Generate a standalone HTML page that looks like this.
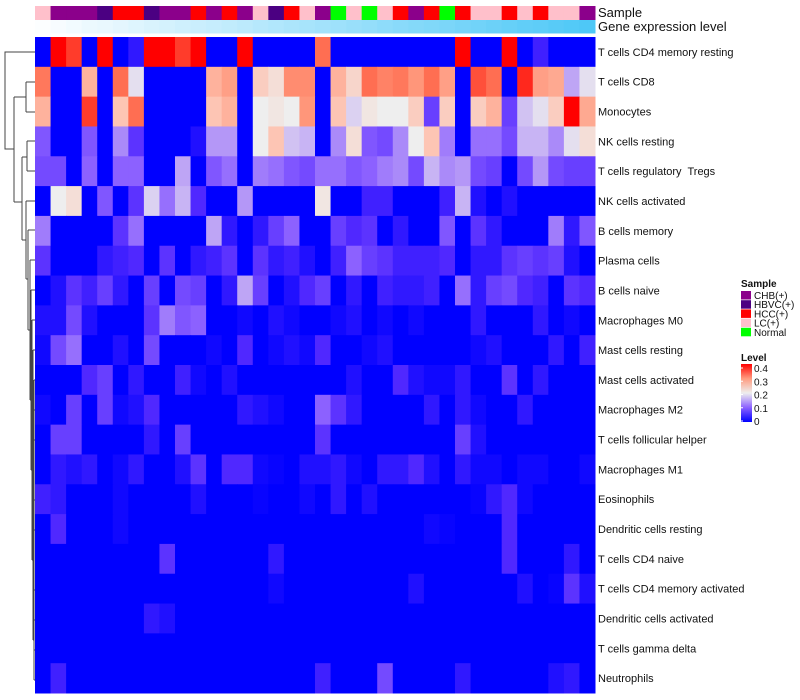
<!DOCTYPE html>
<html><head><meta charset="utf-8"><style>
html,body{margin:0;padding:0;background:#fff;width:800px;height:700px;overflow:hidden}
svg{display:block}
text{font-family:"Liberation Sans",sans-serif;fill:#111}
#rowlabels text{white-space:pre}
</style></head><body>
<svg id="chart" width="800" height="700">
<g id="dendro" stroke="#444" stroke-width="1" fill="none">
<path d="M35,52H5V149H14"/>
<path d="M14,97V202"/>
<path d="M14,97H26M26,82V112M26,82H35M26,112H35"/>
<path d="M14,202H22M22,157V240M22,157H27M27,141V171M27,141H35M27,171H35"/>
<path d="M22,240H26M26,201V279M26,201H35M26,279H28"/>
<path d="M28,230V330M28,230H35M28,330H30M30,260V400M30,260H35M30,400H31"/>
<path d="M31,290V470M31,290H35M31,470H32M32,320V560M32,320H35M32,560H33M33,350V640M33,350H35M33,640H34M34,380V680"/>
<path d="M34,380H35M34,410H35M34,440H35M34,500H35M34,530H35M34,590H35M34,620H35M34,650H35M34,680H35"/>
</g>
<g id="cells"></g>
<g id="annot"></g>
<text x="598" y="17" font-size="13">Sample</text>
<text x="598" y="31" font-size="13">Gene expression level</text>
<g id="rowlabels"></g>
<g id="legend">
<text x="741" y="287" font-size="10" font-weight="bold">Sample</text>
<g id="legItems"></g>
<text x="741" y="361" font-size="10" font-weight="bold">Level</text>
<defs><linearGradient id="lg" x1="0" y1="1" x2="0" y2="0">
<stop offset="0" stop-color="#0000ff"/><stop offset="0.25" stop-color="#8c61ff"/><stop offset="0.5" stop-color="#eeeeee"/><stop offset="0.75" stop-color="#ff9b7f"/><stop offset="1" stop-color="#ff0000"/></linearGradient></defs>
<rect x="741" y="364" width="11" height="58" fill="url(#lg)"/>
<g id="levTicks"></g>
</g>
</svg>
<script>
const rowNames=["T cells CD4 memory resting","T cells CD8","Monocytes","NK cells resting","T cells regulatory  Tregs","NK cells activated","B cells memory","Plasma cells","B cells naive","Macrophages M0","Mast cells resting","Mast cells activated","Macrophages M2","T cells follicular helper","Macrophages M1","Eosinophils","Dendritic cells resting","T cells CD4 naive","T cells CD4 memory activated","Dendritic cells activated","T cells gamma delta","Neutrophils"];
const samples=["LC","CHB","CHB","CHB","HBVC","HCC","HCC","HBVC","CHB","CHB","HCC","CHB","HCC","CHB","LC","HBVC","HCC","LC","CHB","Normal","LC","Normal","LC","HCC","CHB","HCC","Normal","HCC","LC","LC","HCC","LC","HCC","LC","LC","CHB"];
const sampleTypes=["CHB","HBVC","HCC","LC","Normal"];
const sampleLabels=["CHB(+)","HBVC(+)","HCC(+)","LC(+)","Normal"];
const geneLevel=[0,0.03,0.06,0.09,0.11,0.14,0.17,0.2,0.23,0.26,0.29,0.31,0.34,0.37,0.4,0.43,0.46,0.49,0.51,0.54,0.57,0.6,0.63,0.66,0.69,0.71,0.74,0.77,0.8,0.83,0.86,0.89,0.91,0.94,0.97,1];
const levelTicks=[0,0.1,0.2,0.3,0.4];
const values=[
[0,.4,.37,0,.4,0,.03,.4,.4,.37,.4,0,0,.4,0,0,0,0,.34,0,0,0,0,0,0,0,0,.4,0,0,.4,0,.04,0,0,0],
[.33,0,0,.27,0,.34,.19,0,0,0,0,.27,.29,0,.24,.22,.31,.31,0,.27,.23,.34,.32,.33,.30,.34,.29,0,.36,.34,0,.38,.29,.28,.15,.19],
[.27,0,0,.37,0,.25,.34,0,0,0,0,.25,.27,0,.2,.21,.2,.3,0,.25,.18,.21,.2,.2,.24,.07,.24,0,.24,.27,.07,.17,.19,.24,.4,.28],
[.09,0,0,.09,0,.13,.06,0,0,0,.02,.14,.14,0,.2,.25,.17,.16,0,.13,.22,.09,.08,.13,.2,.25,.12,0,.11,.11,.08,.16,.16,.13,.19,.22],
[.08,.08,0,.1,0,.1,.1,0,0,.15,0,.09,.11,0,.12,.11,.09,.08,.11,.11,.09,.1,.12,.13,.08,.16,.13,.14,.08,.07,0,.08,.14,.08,.07,.07],
[0,.2,.22,0,.09,0,.06,.18,.11,.16,.05,0,0,.14,0,0,0,0,.21,0,0,.04,.04,0,0,0,.04,.16,.02,0,.02,0,0,0,0,0],
[.12,0,0,0,0,.06,.11,0,0,0,0,.15,.03,0,.03,.07,.1,0,0,.07,.05,.06,0,.03,0,0,.09,0,.06,.03,0,0,0,.12,.03,.09],
[.06,0,0,0,.03,.04,.05,0,.06,0,.03,.04,.06,0,.06,.03,.04,.02,0,.04,.1,.07,.06,.04,.04,.04,.05,0,.03,.03,.06,.07,.06,.07,.02,0],
[0,.02,.06,.04,.07,.03,0,.07,0,.08,.07,0,.03,.15,.07,0,.02,.05,.07,0,.03,0,.04,.03,.03,.04,0,.11,.03,.07,.08,.05,.04,0,.06,.05],
[.02,.02,.08,.02,0,0,0,.06,.12,.09,.1,0,0,.01,0,.02,.01,0,0,.01,.02,0,.01,0,.01,0,0,0,.03,0,0,0,.03,0,.01,0],
[.01,.08,.11,0,0,.02,0,.08,0,0,0,.01,0,.05,0,.01,.02,.01,.05,0,0,.01,.02,0,0,0,0,0,.01,.02,0,0,0,.03,0,.04],
[0,0,0,.05,.07,0,.03,0,0,.04,.01,0,.02,0,0,0,0,0,0,0,.02,0,0,.05,.02,.01,.01,.03,0,0,.06,0,.03,0,0,0],
[.01,0,.07,0,.07,.01,.02,.05,0,0,0,0,0,.03,.02,.01,0,0,.1,.06,.03,0,0,0,0,.03,0,.03,.01,0,0,.03,0,0,0,0],
[0,.07,.07,0,0,0,0,.03,0,.07,0,0,0,0,0,0,0,0,.06,0,0,0,0,0,0,0,0,.07,.02,0,0,0,0,0,0,0],
[0,.03,.02,.03,0,.01,.03,0,0,.02,.06,0,.05,.05,.01,.005,0,.02,.02,.03,.01,0,.03,.03,.05,.02,0,.03,.01,.01,0,.01,.01,0,0,.01],
[.04,.03,0,0,0,.01,0,0,0,0,.02,0,0,0,.005,0,0,.01,0,.03,0,.02,0,0,0,0,0,0,.005,.03,.05,.01,0,0,0,0],
[0,.05,0,0,0,.01,0,0,0,0,0,0,0,0,0,0,0,0,0,0,0,0,0,0,0,.01,.005,0,0,0,.05,0,0,0,0,0],
[0,0,0,0,0,0,0,0,.06,0,0,0,0,0,0,.03,0,0,0,0,0,0,0,0,0,0,0,0,0,0,.05,0,0,0,.03,0],
[0,0,0,0,0,0,0,0,0,0,0,0,0,0,0,.01,0,0,0,0,0,0,0,0,.02,0,0,0,0,0,0,.02,0,.005,.06,.02],
[0,0,0,0,0,0,0,.03,.02,0,0,0,0,0,0,0,0,0,0,0,0,0,0,0,0,0,0,0,0,0,0,0,0,0,0,0],
[0,0,0,0,0,0,0,0,0,0,0,0,0,0,0,0,0,0,0,0,0,0,0,0,0,0,0,0,0,0,0,0,0,0,0,0],
[0,.04,0,0,0,0,0,0,0,0,0,0,0,0,0,0,0,0,.04,0,0,0,.08,0,0,0,0,.03,0,0,0,0,0,.02,.03,0]
];
const NS="http://www.w3.org/2000/svg";
const X0=35,W=560,Y0=37,H=656;
const nC=samples.length,nR=rowNames.length;
const cw=W/nC,rh=H/nR;
const xPos=i=>X0+i*cw, yPos=r=>Y0+r*rh;
const sampleColors={CHB:"#8b008b",HBVC:"#4b0082",HCC:"#ff0000",LC:"#ffc0cb",Normal:"#00ff00"};
const stops=[[0,[0,0,255]],[0.05,[80,40,255]],[0.1,[140,97,255]],[0.15,[190,165,245]],[0.2,[238,238,238]],[0.25,[253,197,180]],[0.3,[255,150,122]],[0.35,[255,100,72]],[0.4,[255,0,0]]];
function col(v){v=Math.max(0,Math.min(0.4,v));for(let i=1;i<stops.length;i++){if(v<=stops[i][0]){const a=stops[i-1],b=stops[i],t=(v-a[0])/(b[0]-a[0]);const c=a[1].map((x,k)=>Math.round(x+(b[1][k]-x)*t));return `rgb(${c})`;}}return "rgb(255,0,0)";}
function gcol(t){const a=[252,254,255],b=[78,200,247];return `rgb(${a.map((x,k)=>Math.round(x+(b[k]-x)*t))})`;}
function mk(tag,attrs,parent){const e=document.createElementNS(NS,tag);for(const k in attrs)e.setAttribute(k,attrs[k]);parent.appendChild(e);return e;}
const cells=document.getElementById('cells');
values.forEach((row,r)=>row.forEach((v,c)=>{
 const e=mk('rect',{x:xPos(c),y:yPos(r),width:cw+0.5,height:rh+0.5,fill:col(v)},cells);
 
 
}));
const an=document.getElementById('annot');
samples.forEach((s,c)=>{
 const e=mk('rect',{x:xPos(c),y:6,width:cw+0.5,height:14,fill:sampleColors[s]},an);
 
 
});
geneLevel.forEach((g,c)=>{
 const e=mk('rect',{x:xPos(c),y:20,width:cw+0.5,height:13.5,fill:gcol(g)},an);
 
 
});
const rl=document.getElementById('rowlabels');
rowNames.forEach((n,r)=>{
 const t=mk('text',{x:598,y:yPos(r)+rh/2+4,'font-size':11},rl);
 t.textContent=n;
 
 
});
const li=document.getElementById('legItems');
sampleTypes.forEach((s,i)=>{
 const y=291+i*9.2;
 const b=mk('rect',{x:741,y:y,width:10,height:8.5,fill:sampleColors[s]},li);
 
 
 const t=mk('text',{x:754,y:y+8,'font-size':10},li);
 t.textContent=sampleLabels[i];
 
 
});
const lt=document.getElementById('levTicks');
levelTicks.forEach(v=>{
 const y=421-(v/0.4)*53;
 const l=mk('line',{x1:741,x2:743,y1:y,y2:y,stroke:'#fff'},lt);
 
 
 const t=mk('text',{x:754,y:y+4,'font-size':10},lt);
 t.textContent=String(v);
 
 
});
</script>
</body></html>
